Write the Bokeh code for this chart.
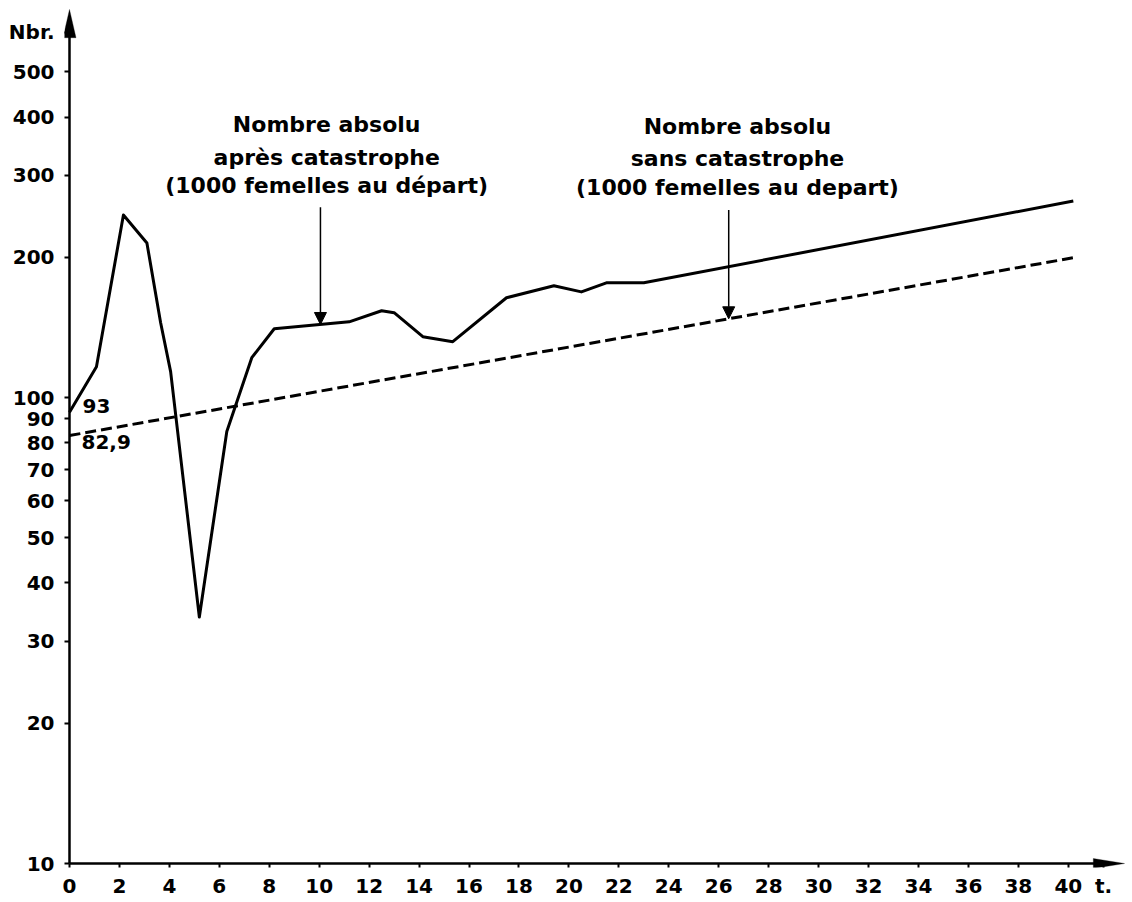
from bokeh.plotting import figure
from bokeh.models import (FixedTicker, Label, Arrow, NormalHead, PolyAnnotation,
                          CustomJSTickFormatter)
from bokeh.embed import file_html
from bokeh.resources import INLINE

# ---- data ----
t_after = [0, 1.08, 2.16, 3.1, 3.65, 4.05, 5.2, 6.3, 7.3, 8.2, 11.2, 12.5, 13.0,
           14.15, 15.35, 17.5, 19.4, 20.5, 21.5, 23.0, 40.2]
n_after = [93, 116.5, 246.5, 214.7, 144.7, 113.7, 33.8, 84.6, 121.8, 140.5, 145.4,
           153.6, 152.1, 135.1, 131.8, 163.8, 173.8, 168.6, 176.3, 176.3, 264.2]
t_without = [0, 40.3]
n_without = [82.9, 200.0]
x_ticks = list(range(0, 41, 2))
x_labels = [str(v) for v in x_ticks]
y_ticks = [10, 20, 30, 40, 50, 60, 70, 80, 90, 100, 200, 300, 400, 500]
y_labels = [str(v) for v in y_ticks]
x_axis_name = "t."
y_axis_name = "Nbr."
label_after = ["Nombre absolu", "après catastrophe", "(1000 femelles au départ)"]
label_without = ["Nombre absolu", "sans catastrophe", "(1000 femelles au depart)"]
start_after_label = "93"
start_without_label = "82,9"

FONT = "DejaVu Sans"
INK = "black"

X0, X1 = -0.2, 42.29
Y0, Y1 = 9.805, 684.0
X_NAME_POS = 41.41
Y_NAME_POS = 607.8

p = figure(width=1130, height=900, output_backend="svg", toolbar_location=None,
           x_range=(X0, X1), y_range=(Y0, Y1), y_axis_type="log",
           min_border_left=64, min_border_right=5, min_border_top=8, min_border_bottom=31)
p.outline_line_color = None
p.grid.visible = False
p.background_fill_color = "white"
p.border_fill_color = "white"

# axis shafts at x=0 and y=10
p.add_layout(Arrow(end=None, x_start=0, y_start=10, x_end=0, y_end=640,
                   line_width=2.5, line_color=INK))
p.add_layout(Arrow(end=None, x_start=0, y_start=10, x_end=41.5, y_end=10,
                   line_width=2.5, line_color=INK))
# axis arrowheads
p.add_layout(PolyAnnotation(xs=[-0.26, 0, 0.26], ys=[592, 680.7, 592],
                            fill_color=INK, fill_alpha=1, line_color=INK, line_width=1))
p.add_layout(PolyAnnotation(xs=[41.0, 42.25, 41.0], ys=[9.76, 10, 10.25],
                            fill_color=INK, fill_alpha=1, line_color=INK, line_width=1))

p.line(t_after, n_after, line_color=INK, line_width=3, line_join="round")
p.line(t_without, n_without, line_color=INK, line_width=3, line_dash="11 5")

for ax in (p.xaxis[0], p.yaxis[0]):
    ax.axis_line_color = None
    ax.major_tick_line_width = 2
    ax.major_tick_line_color = INK
    ax.major_tick_out = 0
    ax.minor_tick_line_color = None
    ax.major_label_text_font = FONT
    ax.major_label_text_font_size = "20px"
    ax.major_label_text_font_style = "bold"
    ax.major_label_text_color = INK

fmt_code = """
for (let i = 0; i < vals.length; i++) {
  if (Math.abs(vals[i] - tick) < 1e-6 * Math.max(1, Math.abs(tick))) return labs[i];
}
return tick.toString();
"""
p.xaxis.ticker = FixedTicker(ticks=x_ticks + [X_NAME_POS])
p.xaxis.formatter = CustomJSTickFormatter(
    args=dict(vals=x_ticks + [X_NAME_POS], labs=x_labels + [x_axis_name]), code=fmt_code)
p.yaxis.ticker = FixedTicker(ticks=y_ticks + [Y_NAME_POS])
p.yaxis.formatter = CustomJSTickFormatter(
    args=dict(vals=y_ticks + [Y_NAME_POS], labs=y_labels + [y_axis_name]), code=fmt_code)
p.xaxis.major_tick_in = 4
p.xaxis.major_label_standoff = 6
p.yaxis.major_tick_in = 5
p.yaxis.major_label_standoff = 10

def lab(x, y, text, size="20px", align="left"):
    p.add_layout(Label(x=x, y=y, text=text, text_font=FONT, text_font_size=size,
                       text_font_style="bold", text_color=INK, text_align=align,
                       text_baseline="alphabetic"))

lab(0.52, 96.1, start_after_label, "20px")
lab(0.48, 80.3, start_without_label, "20px")

for txt, yy in zip(label_after, [386.2, 328.1, 285.8]):
    lab(10.3, yy, txt, "22px", "center")
for txt, yy in zip(label_without, [381.8, 326.5, 283.0]):
    lab(26.75, yy, txt, "22px", "center")

p.add_layout(Arrow(end=NormalHead(size=12, fill_color=INK, line_color=INK),
                   x_start=10.05, y_start=256, x_end=10.05, y_end=143.5,
                   line_width=1.5, line_color=INK))
p.add_layout(Arrow(end=NormalHead(size=12, fill_color=INK, line_color=INK),
                   x_start=26.4, y_start=252.7, x_end=26.4, y_end=147.6,
                   line_width=1.5, line_color=INK))

open("out.html", "w").write(file_html(p, INLINE))
